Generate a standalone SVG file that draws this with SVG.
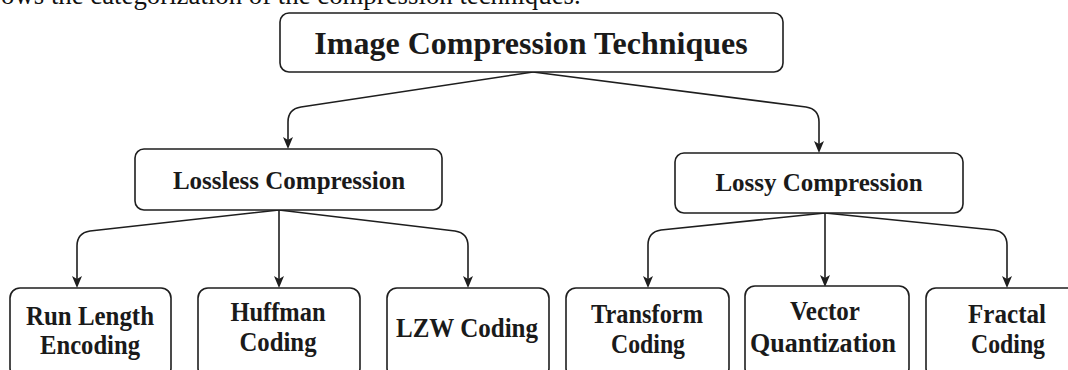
<svg xmlns="http://www.w3.org/2000/svg" width="1068" height="370" viewBox="0 0 1068 370">
  <style>
    .box { fill: #ffffff; stroke: #1e1e1e; stroke-width: 1.6; }
    .edge { fill: none; stroke: #1e1e1e; stroke-width: 1.6; marker-end: url(#arrow); }
    .lbl { font-family: "Liberation Serif", "Times New Roman", serif; font-weight: bold; font-size: 25px; fill: #1a1a1a; text-anchor: middle; }
    .title { font-size: 32px; }
    .leaf { font-size: 27.5px; }
    .caption { font-family: "Liberation Serif", "Times New Roman", serif; font-size: 26.8px; fill: #111111; }
  </style>
  <defs>
    <marker id="arrow" markerUnits="userSpaceOnUse" markerWidth="12" markerHeight="10" viewBox="0 0 12 10" refX="3" refY="5" orient="auto">
      <path d="M0,0 L12,5 L0,10 L3,5 Z" fill="#1e1e1e"/>
    </marker>
  </defs>

  <rect width="1068" height="370" fill="#ffffff"/>

  <!-- running text line above the figure -->
  <text class="caption" x="1" y="4">ows the categorization of the compression techniques.</text>

  <!-- connectors -->
  <g id="connectors">
    <path class="edge" d="M533,72 L301,107 Q288,109 288,122 L288,140"/>
    <path class="edge" d="M533,72 L806,107 Q819,109 819,122 L819,144"/>
    <path class="edge" d="M279,210 L90,231 Q77,233 77,246 L77,279"/>
    <path class="edge" d="M279,210 L279,279"/>
    <path class="edge" d="M279,210 L455,231 Q468,233 468,246 L468,279"/>
    <path class="edge" d="M825,213 L661,230 Q648,232 648,245 L648,279"/>
    <path class="edge" d="M825,213 L825,278"/>
    <path class="edge" d="M825,213 L994,230 Q1007,232 1007,245 L1007,279"/>
  </g>

  <g id="root">
    <rect class="box" x="280" y="13" width="503" height="59" rx="9"/>
    <text class="lbl title" x="531" y="54">Image Compression Techniques</text>
  </g>

  <g id="lossless">
    <rect class="box" x="135" y="149" width="307" height="61" rx="9"/>
    <text class="lbl" x="289" y="189">Lossless Compression</text>
  </g>

  <g id="lossy">
    <rect class="box" x="675" y="153" width="288" height="60" rx="9"/>
    <text class="lbl" x="819" y="191">Lossy Compression</text>
  </g>

  <g id="run-length">
    <rect class="box" x="10" y="288" width="161" height="90" rx="10"/>
    <text class="lbl leaf" x="90" y="325" textLength="128" lengthAdjust="spacingAndGlyphs">Run Length</text>
    <text class="lbl leaf" x="90" y="354" textLength="100" lengthAdjust="spacingAndGlyphs">Encoding</text>
  </g>

  <g id="huffman">
    <rect class="box" x="198" y="288" width="162" height="90" rx="10"/>
    <text class="lbl leaf" x="278" y="321" textLength="95" lengthAdjust="spacingAndGlyphs">Huffman</text>
    <text class="lbl leaf" x="278" y="351" textLength="77" lengthAdjust="spacingAndGlyphs">Coding</text>
  </g>

  <g id="lzw">
    <rect class="box" x="387" y="288" width="162" height="90" rx="10"/>
    <text class="lbl leaf" x="467" y="337" textLength="142" lengthAdjust="spacingAndGlyphs">LZW Coding</text>
  </g>

  <g id="transform">
    <rect class="box" x="566" y="288" width="163" height="90" rx="10"/>
    <text class="lbl leaf" x="647" y="323" textLength="112" lengthAdjust="spacingAndGlyphs">Transform</text>
    <text class="lbl leaf" x="648" y="353" textLength="74" lengthAdjust="spacingAndGlyphs">Coding</text>
  </g>

  <g id="vector">
    <rect class="box" x="745" y="286" width="164" height="92" rx="10"/>
    <text class="lbl leaf" x="825" y="320" textLength="70" lengthAdjust="spacingAndGlyphs">Vector</text>
    <text class="lbl leaf" x="823" y="352" textLength="146" lengthAdjust="spacingAndGlyphs">Quantization</text>
  </g>

  <g id="fractal">
    <rect class="box" x="926" y="288" width="162" height="90" rx="10"/>
    <text class="lbl leaf" x="1007" y="323" textLength="78" lengthAdjust="spacingAndGlyphs">Fractal</text>
    <text class="lbl leaf" x="1008" y="353" textLength="74" lengthAdjust="spacingAndGlyphs">Coding</text>
  </g>
</svg>
